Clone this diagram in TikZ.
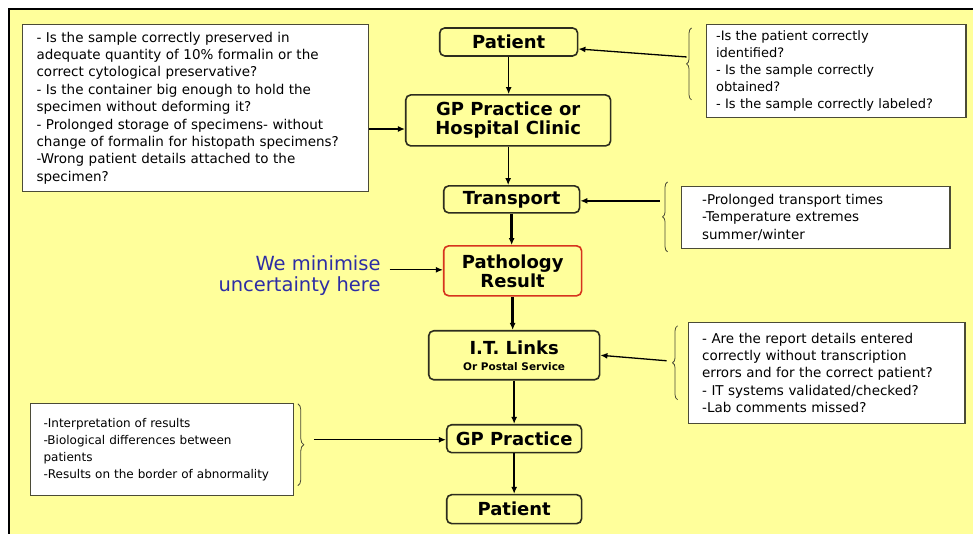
\documentclass[tikz,border=0pt]{standalone}
\usepackage{fontspec}
\setmainfont{DejaVu Sans}
\usepackage{xcolor}
\usepackage{tikz}
\usetikzlibrary{arrows.meta,decorations.pathreplacing,calc}

\definecolor{slideyellow}{RGB}{255,255,155}
\definecolor{boxline}{RGB}{45,45,30}
\definecolor{noteline}{RGB}{75,75,55}
\definecolor{resultred}{RGB}{214,52,30}
\definecolor{hereblue}{RGB}{45,45,165}

\begin{document}
\begin{tikzpicture}[
  x=1pt, y=-1pt,
  flow/.style={draw=boxline, line width=1.6pt, rounded corners=5pt, fill=slideyellow, align=center, inner sep=0pt, font=\fontsize{18}{19}\selectfont\bfseries},
  note/.style={draw=noteline, line width=1.2pt, fill=white, anchor=north west, align=left, inner ysep=0pt, font=\fontsize{13.5}{17.4}\selectfont},
  brc/.style={draw=noteline, line width=0.8pt, decorate, decoration={brace, amplitude=5pt}},
  arr/.style={-{Latex[length=7pt,width=6pt]}, line width=1.3pt},
  bigarr/.style={arr, line width=2.6pt}]
% slide frame
\fill[white] (0,0) rectangle (974,534);
\fill[slideyellow] (9,9) rectangle (974,534);
\draw[line width=1.3pt] (9,534) -- (9,9) -- (974,9);
\useasboundingbox (0,0) rectangle (974,534);

% main chain
\node[flow, minimum width=138, minimum height=28] (pat1) at (509,42) {Patient};
\node[flow, minimum width=205, minimum height=51] (gp1) at (508.5,120.5) {GP Practice or\\Hospital Clinic};
\node[flow, minimum width=136, minimum height=27] (trans) at (512,199.5) {Transport};
\node[flow, draw=resultred, minimum width=138, minimum height=50] (result) at (513,271) {Pathology\\Result};
\node[flow, minimum width=171, minimum height=49] (links) at (514.5,355.5) {I.T. Links\\[-3pt]{\fontsize{10.5}{12}\selectfont Or Postal Service}};
\node[flow, minimum width=135, minimum height=28] (gp2) at (514.5,439) {GP Practice};
\node[flow, minimum width=135, minimum height=29] (pat2) at (514.5,509.5) {Patient};
\draw[arr] (pat1.south) -- (pat1.south |- gp1.north);
\draw[arr] (gp1.south) -- (gp1.south |- trans.north);
\draw[bigarr] (trans.south) -- (trans.south |- result.north);
\draw[bigarr] (result.south) -- (result.south |- links.north);
\draw[bigarr] (links.south) -- (links.south |- gp2.north);
\draw[bigarr] (gp2.south) -- (gp2.south |- pat2.north);

% question boxes
\node[note, text width=318, inner xsep=14, minimum height=167] (qsample) at (22,24) {- Is the sample correctly preserved in\\adequate quantity of 10\% formalin or the\\correct cytological preservative?\\- Is the container big enough to hold the\\specimen without deforming it?\\- Prolonged storage of specimens- without\\change of formalin for histopath specimens?\\-Wrong patient details attached to the\\specimen?};
\node[note, text width=240, inner xsep=10, minimum height=93, font=\fontsize{13}{17}\selectfont] (qpatient) at (706,24) {-Is the patient correctly\\identified?\\- Is the sample correctly\\obtained?\\- Is the sample correctly labeled?};
\node[note, text width=227, inner xsep=21, minimum height=62] (qtrans) at (681,186) {-Prolonged transport times\\-Temperature extremes\\summer/winter};
\node[note, text width=249, inner xsep=14, minimum height=101] (qlinks) at (688,322) {- Are the report details entered\\correctly without transcription\\errors and for the correct patient?\\- IT systems validated/checked?\\-Lab comments missed?};
\node[note, text width=237, inner xsep=13, minimum height=92, font=\fontsize{12}{17}\selectfont] (qgp) at (30,403) {-Interpretation of results\\-Biological differences between\\patients\\-Results on the border of abnormality};

% braces
\draw[brc] (692,100) -- (692,28);
\draw[brc] (668,252) -- (668,182);
\draw[brc] (678,400) -- (678,326);
\draw[brc, decoration={amplitude=6pt}] (298,404) -- (298,486);

% side arrows
\coordinate (bPatient) at (687,57);
\draw[arr] (bPatient) -- ([yshift=-7pt]pat1.east);
\coordinate (aSample) at ([yshift=-21pt]qsample.east);
\draw[arr] (aSample) -- (aSample -| gp1.west);
\coordinate (bTrans) at (660,201);
\draw[arr] (bTrans) -- (bTrans -| trans.east);
\coordinate (bLinks) at (667,361);
\draw[arr] (bLinks) -- (links.east);
\coordinate (bGp) at (314,440);
\draw[arr] (bGp) -- (bGp -| gp2.west);

% note on the result
\node[anchor=east, align=right, text=hereblue, inner sep=0pt, font=\fontsize{19.5}{21}\selectfont] (here) at (381,275.5) {We minimise\\uncertainty here};
\coordinate (hereTip) at (390,270);
\draw[arr] (hereTip) -- (hereTip -| result.west);
\end{tikzpicture}
\end{document}
